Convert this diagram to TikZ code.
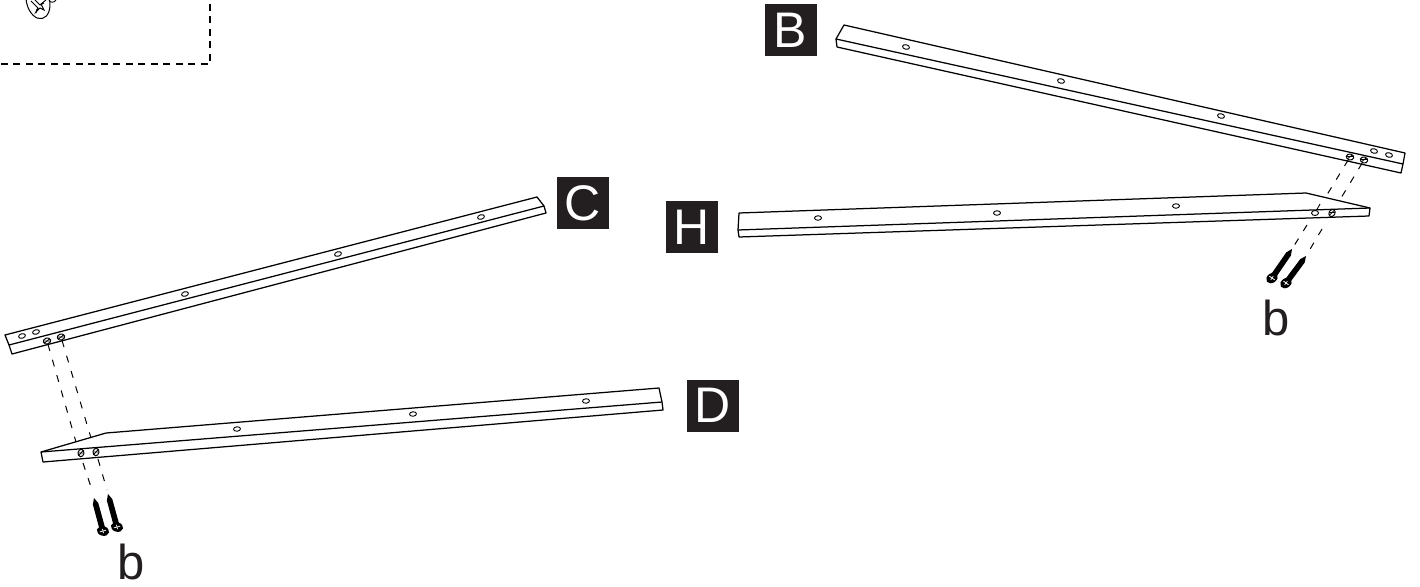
\documentclass[tikz,border=0pt]{standalone}
\usepackage{fontspec}
\setmainfont{Liberation Sans}
\usetikzlibrary{shapes,calc}
\tikzstyle{bar} = [draw, line width=1.25pt, line join=round]
\tikzstyle{line} = [draw, line width=0.9pt]
\tikzstyle{lbox} = [fill={rgb,255:red,35;green,31;blue,32}, text=white, minimum size=52pt, inner sep=0pt, font=\fontsize{50}{50}\selectfont]
\tikzstyle{lpart} = [inner sep=0pt, text={rgb,255:red,35;green,31;blue,32}, font=\fontsize{49}{49}\selectfont]
\tikzstyle{hole} = [ellipse, draw, line width=0.9pt, inner sep=0pt, minimum width=7pt, minimum height=4.5pt]
\tikzstyle{shole} = [ellipse, draw, line width=1pt, inner sep=0pt, minimum width=7.5pt, minimum height=6pt, path picture={\draw [line width=0.8pt] (path picture bounding box.south west) -- (path picture bounding box.north east); \draw [line width=0.8pt] (path picture bounding box.west) -- (path picture bounding box.east);}]
\tikzstyle{guide} = [draw, line width=1pt, dash pattern=on 7pt off 9pt]
\tikzstyle{fence} = [draw, line width=1.1pt, dash pattern=on 7pt off 5.5pt]
\tikzstyle{shead} = [ellipse, fill=black, inner sep=0pt, minimum width=12.5pt, minimum height=9.5pt]
\newcommand{\screwdraw}[3]{
	\fill (#1) -- ($(#1)!6pt!(#2)!2.8pt!90:(#2)$) -- ($(#2)!2.9pt!-90:(#1)$) -- ($(#2)!2.9pt!90:(#1)$) -- ($(#1)!6pt!(#2)!2.8pt!-90:(#2)$) -- cycle;
	\node [shead, rotate=#3] (#2x) at (#2) {};
	\draw [white, line width=0.8pt] ($(#2)!3.2pt!90:(#1)$) -- ($(#2)!3.2pt!-90:(#1)$);
	\draw [white, line width=0.7pt] ($(#2)!2.2pt!(#1)$) -- ($(#2)!-2.2pt!(#1)$);
}

\begin{document}
\begin{tikzpicture}[x=1pt, y=-1pt]
	\useasboundingbox [fill=white] (0, 0) rectangle (1420, 586);

	% corner of the inset
	\path [fence] (210, 4) -- (210, 64) -- (0, 64);
	\begin{scope}
		\clip (0, 0) rectangle (70, 30);
		\node [ellipse, draw, line width=1pt, minimum width=23pt, minimum height=36pt, inner sep=0pt, rotate=14] (inset) at (38, 1) {};
		\path [line] (31, 1) -- (38, 8) -- (36, 12) -- (40, 8) -- (44, 10) -- (41, 4) -- (46, 0);
		\path [line] (35, 0) -- (40, 5) -- (44, 3);
		\path [line] (37, 9) -- (36, 13);
		\path [line] (49, 0) .. controls (50, 3) and (54, 3) .. (56, 0);
	\end{scope}

	% bar B
	\path [bar] (844, 25) -- (1405, 153) -- (1403, 164) -- (1401, 173) -- (837, 47) -- (836, 39) -- cycle;
	\path [bar] (836, 39) -- (1403, 164);
	\node [lbox] (B) at (790.5, 30.5) {B};
	\node [hole, rotate=-13] (b1) at (906, 47) {};
	\node [hole, rotate=-13] (b2) at (1061, 81) {};
	\node [hole, rotate=-13] (b3) at (1221, 116) {};
	\node [hole, rotate=-13] (b4) at (1374, 151) {};
	\node [hole, rotate=-13] (b5) at (1389, 155) {};
	\node [shole, rotate=-13] (bs1) at (1350, 157) {};
	\node [shole, rotate=-13] (bs2) at (1364, 160) {};

	% bar H
	\path [bar] (739, 213) -- (1306, 193) -- (1370, 208) -- (1369, 216) -- (739, 237) -- (738, 230) -- cycle;
	\path [bar] (738, 230) -- (1370, 208);
	\node [lbox] (H) at (692, 227) {H};
	\node [hole, rotate=2] (h1) at (818, 218) {};
	\node [hole, rotate=2] (h2) at (997, 213) {};
	\node [hole, rotate=2] (h3) at (1176, 206) {};
	\node [hole, rotate=2, minimum height=5pt] (hs1) at (1315, 213) {};
	\node [shole, rotate=60] (hs2) at (1332, 213) {};

	% bar C
	\path [bar] (5, 335) -- (537, 197) -- (544, 206) -- (546, 213) -- (12, 354) -- (9, 345) -- cycle;
	\path [bar] (9, 345) -- (544, 206);
	\node [lbox] (C) at (582.5, 203) {C};
	\node [hole, rotate=15] (c1) at (481, 217) {};
	\node [hole, rotate=15] (c2) at (338, 254) {};
	\node [hole, rotate=15] (c3) at (185, 294) {};
	\node [hole, rotate=15] (c4) at (36, 332) {};
	\node [hole, rotate=15] (c5) at (22, 336) {};
	\node [shole, rotate=15] (cs1) at (47, 341) {};
	\node [shole, rotate=15] (cs2) at (61, 337) {};

	% bar D
	\path [bar] (41, 452) -- (106, 433) -- (659, 388) -- (662, 402) -- (663, 410) -- (43, 462) -- cycle;
	\path [bar] (41, 452) -- (662, 402);
	\node [lbox] (D) at (713, 405.5) {D};
	\node [hole, rotate=5] (d1) at (237, 429) {};
	\node [hole, rotate=5] (d2) at (413, 414) {};
	\node [hole, rotate=5] (d3) at (586, 401) {};
	\node [shole, rotate=80] (ds1) at (81, 453) {};
	\node [shole, rotate=80] (ds2) at (96, 452) {};

	% right screws
	\coordinate (rt1) at (1292, 249);
	\coordinate (rh1) at (1272, 278);
	\coordinate (rt2) at (1306, 256);
	\coordinate (rh2) at (1286, 283);
	\screwdraw{rt1}{rh1}{35}
	\screwdraw{rt2}{rh2}{35}
	\coordinate (re1) at (1325, 198);
	\coordinate (re2) at (1338, 203);
	\coordinate (rb1) at (1307, 225);
	\coordinate (rb2) at (1322, 229);
	\coordinate (ri1) at (1320, 204);
	\path [guide] (bs1) -- (re1);
	\path [guide] (bs2) -- (re2);
	\path [line] (ri1) -- (hs1);
	\path [guide] (rb1) -- (rt1);
	\path [guide] (rb2) -- (rt2);
	\node [lpart] (bright) at (1276.5, 318) {b};

	% left screws
	\coordinate (lt1) at (94, 498);
	\coordinate (lh1) at (103, 531);
	\coordinate (lt2) at (108, 494);
	\coordinate (lh2) at (117, 527);
	\screwdraw{lt1}{lh1}{-15}
	\screwdraw{lt2}{lh2}{-15}
	\coordinate (le1) at (76, 442);
	\coordinate (le2) at (91, 438);
	\coordinate (lb1) at (83, 463);
	\coordinate (lb2) at (98, 459);
	\coordinate (lf1) at (93, 493);
	\coordinate (lf2) at (107, 490);
	\path [guide] (cs1) -- (le1);
	\path [guide] (cs2) -- (le2);
	\path [guide] (lb1) -- (lf1);
	\path [guide] (lb2) -- (lf2);
	\node [lpart] (bleft) at (131, 561.5) {b};
\end{tikzpicture}
\end{document}
